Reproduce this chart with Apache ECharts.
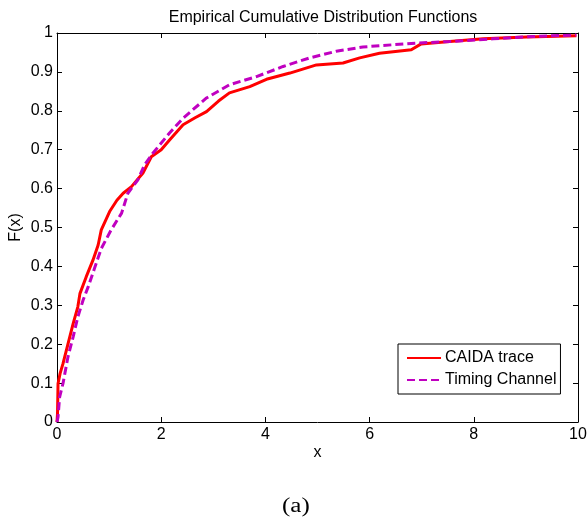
<!DOCTYPE html>
<html>
<head>
<meta charset="utf-8">
<script src="https://cdn.jsdelivr.net/npm/echarts@6/dist/echarts.min.js"></script>
<style>
  html, body { margin: 0; padding: 0; background: #fff; }
  #chart { width: 587px; height: 519px; }
</style>
</head>
<body>
<div id="chart"></div>
<script>
// values
const caidaX = [0, 0.01, 0.02, 0.06, 0.115, 0.21, 0.31, 0.40, 0.44, 0.56, 0.69, 0.79, 0.85, 1.01, 1.15, 1.27, 1.43, 1.65, 1.81, 2.0, 2.16, 2.42, 2.65, 2.87, 3.1, 3.31, 3.7, 4.02, 4.47, 4.98, 5.49, 5.81, 6.19, 6.8, 6.99, 7.54, 8.18, 9.01, 9.97]
const caidaY = [0, 0.022, 0.099, 0.125, 0.15, 0.20, 0.253, 0.296, 0.33, 0.373, 0.416, 0.455, 0.494, 0.541, 0.57, 0.588, 0.605, 0.64, 0.682, 0.70, 0.725, 0.764, 0.782, 0.798, 0.825, 0.846, 0.862, 0.881, 0.897, 0.918, 0.923, 0.936, 0.948, 0.957, 0.972, 0.978, 0.985, 0.99, 0.993]

const timingX = [0, 0.02, 0.05, 0.115, 0.21, 0.31, 0.40, 0.50, 0.60, 0.72, 0.85, 1.04, 1.24, 1.36, 1.55, 1.68, 1.84, 2.16, 2.42, 2.87, 3.31, 3.83, 4.34, 4.85, 5.36, 5.87, 6.26, 6.9, 7.54, 8.37, 9.14, 9.97]
const timingY = [0, 0.013, 0.064, 0.099, 0.167, 0.219, 0.27, 0.313, 0.348, 0.395, 0.446, 0.494, 0.537, 0.588, 0.622, 0.661, 0.691, 0.743, 0.781, 0.833, 0.867, 0.888, 0.914, 0.936, 0.953, 0.964, 0.968, 0.974, 0.978, 0.985, 0.991, 0.995]

const seriesNames = ['CAIDA trace', 'Timing Channel']

const pairs = (xs, ys) => xs.map((x, i) => [x, ys[i]])

const font = 'Liberation Sans, Arial, sans-serif'
const axisBase = {
	type: 'value',
	axisLine: { show: true, onZero: false, lineStyle: { color: '#000', width: 1 } },
	axisTick: { show: true, inside: true, length: 5, lineStyle: { color: '#000' } },
	splitLine: { show: false }
}

const chart = echarts.init(document.getElementById('chart'))
chart.setOption({
	animation: false,
	backgroundColor: '#fff',
	title: {
		text: 'Empirical Cumulative Distribution Functions',
		left: 318,
		top: 5,
		textAlign: 'center',
		textStyle: { fontFamily: font, fontSize: 16, fontWeight: 'normal', color: '#000' }
	},
	grid: { left: 57, right: 9, top: 33, bottom: 97, outerBoundsMode: 'none' },
	legend: {
		orient: 'vertical',
		left: 398,
		top: 344,
		padding: [6, 4, 6, 8],
		itemGap: 6,
		itemWidth: 34,
		itemHeight: 14,
		borderColor: '#000',
		borderWidth: 1,
		backgroundColor: '#fff',
		itemStyle: { opacity: 0 },
		data: seriesNames,
		textStyle: { fontFamily: font, fontSize: 16, color: '#000', padding: [0, 0, 0, -1] }
	},
	xAxis: [
		Object.assign({}, axisBase, {
			position: 'bottom',
			min: 0, max: 10, interval: 2,
			name: 'x', nameLocation: 'middle', nameGap: 23, nameMoveOverlap: false,
			nameTextStyle: { fontFamily: font, fontSize: 16, color: '#000' },
			axisLabel: { margin: 5, fontFamily: font, fontSize: 16, color: '#000' }
		}),
		Object.assign({}, axisBase, {
			position: 'top',
			min: 0, max: 10, interval: 2,
			axisLabel: { show: false }
		})
	],
	yAxis: [
		Object.assign({}, axisBase, {
			position: 'left',
			min: 0, max: 1, interval: 0.1,
			name: 'F(x)', nameLocation: 'middle', nameGap: 33, nameMoveOverlap: false,
			nameTextStyle: { fontFamily: font, fontSize: 16, color: '#000' },
			axisLabel: { margin: 4, fontFamily: font, fontSize: 16, color: '#000' }
		}),
		Object.assign({}, axisBase, {
			position: 'right',
			min: 0, max: 1, interval: 0.1,
			axisLabel: { show: false }
		})
	],
	graphic: [{
		type: 'text',
		left: 282,
		top: 497,
		scaleX: 1.25,
		style: { text: '(a)', fontFamily: 'Liberation Serif, Times New Roman, serif', fontSize: 20, fill: '#000' }
	}],
	series: [
		{
			name: seriesNames[0],
			type: 'line',
			xAxisIndex: 0,
			yAxisIndex: 0,
			symbol: 'none',
			color: '#ff0000',
			lineStyle: { color: '#ff0000', width: 3 },
			data: pairs(caidaX, caidaY)
		},
		{
			name: seriesNames[1],
			type: 'line',
			xAxisIndex: 0,
			yAxisIndex: 0,
			symbol: 'none',
			color: '#c000c0',
			lineStyle: { color: '#c000c0', width: 3, type: [8, 4] },
			data: pairs(timingX, timingY)
		}
	]
})
</script>
</body>
</html>
